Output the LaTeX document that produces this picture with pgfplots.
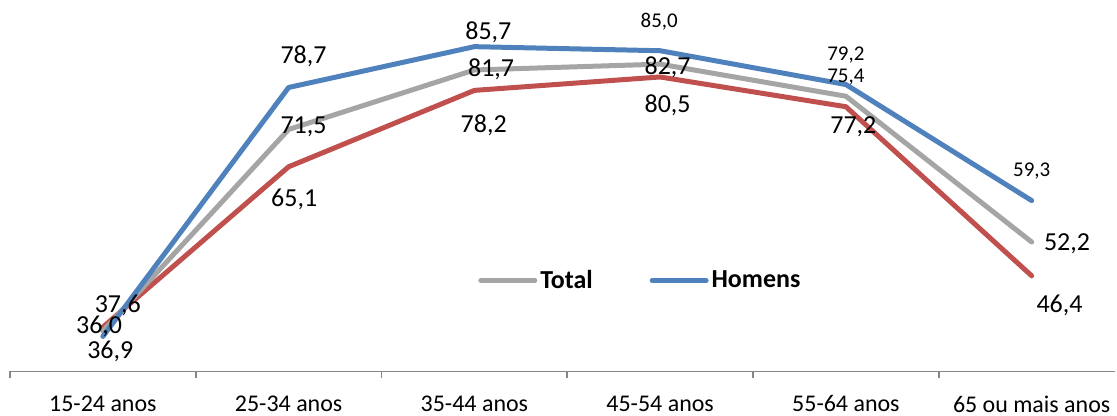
\documentclass[border=0pt]{standalone}
\usepackage{fontspec}
\setmainfont{Carlito}
\usepackage{pgfplots}
\pgfplotsset{compat=1.18}
\definecolor{cTot}{HTML}{A5A5A5}
\definecolor{cHom}{HTML}{4F81BD}
\definecolor{cMul}{HTML}{C0504D}
\definecolor{cAx}{HTML}{868686}
\newcommand{\lbig}{\fontsize{13}{15}\selectfont}
\newcommand{\lsml}{\fontsize{10.5}{12}\selectfont}
\begin{document}
\begin{tikzpicture}
\begin{axis}[
  scale only axis, width=553.5pt, height=186pt,
  xmin=-0.5, xmax=5.45, ymin=30, ymax=93.7,
  axis x line*=bottom, axis y line=none,
  xtick={0,1,2,3,4,5},
  xticklabels={15-24 anos,25-34 anos,35-44 anos,45-54 anos,55-64 anos,65 ou mais anos},
  major tick length=0pt,
  minor xtick={-0.5,0.5,1.5,2.5,3.5,4.5},
  minor tick length=3.5pt, tick align=outside,
  x axis line style={draw=cAx, line width=0.8pt},
  every minor tick/.style={draw=cAx, line width=0.8pt},
  xticklabel style={font=\fontsize{12}{14}\selectfont, inner ysep=1.5pt, yshift=-10.5pt},
  clip=false,
  legend columns=2,
  legend style={at={(0.418,0.245)}, anchor=west, draw=none, fill=none,
    font=\bfseries\fontsize{13}{15}\selectfont,
    nodes={inner xsep=1.5pt},
    /tikz/every even column/.append style={column sep=27pt}},
  legend image code/.code={\draw[#1,line cap=round] (0pt,0pt) -- (27pt,0pt);},
  every axis plot/.append style={line width=2.5pt, line join=round, line cap=round},
]
\addplot[cMul, forget plot] coordinates {(0,37.6) (1,65.1) (2,78.2) (3,80.5) (4,75.4) (5,46.4)};
\addplot[cTot] coordinates {(0,36.9) (1,71.5) (2,81.7) (3,82.7) (4,77.2) (5,52.2)};
\addlegendentry{Total}
\addplot[cHom] coordinates {(0,36.0) (1,78.7) (2,85.7) (3,85.0) (4,79.2) (5,59.3)};
\addlegendentry{Homens}
% data labels
\node[font=\lbig] at (axis cs:0.08,41.4) {37,6};
\node[font=\lbig] at (axis cs:-0.02,37.7) {36,0};
\node[font=\lbig] at (axis cs:0.04,33.4) {36,9};
\node[font=\lbig] at (axis cs:1.08,84.0) {78,7};
\node[font=\lbig] at (axis cs:1.08,72.0) {71,5};
\node[font=\lbig] at (axis cs:1.03,59.5) {65,1};
\node[font=\lbig] at (axis cs:2.075,88.1) {85,7};
\node[font=\lbig] at (axis cs:2.09,81.8) {81,7};
\node[font=\lbig] at (axis cs:2.05,72.2) {78,2};
\node[font=\lsml] at (axis cs:2.995,90.0) {85,0};
\node[font=\lbig] at (axis cs:3.04,82.1) {82,7};
\node[font=\lbig] at (axis cs:3.04,75.6) {80,5};
\node[font=\lsml] at (axis cs:4.0,84.2) {79,2};
\node[font=\lsml] at (axis cs:4.0,80.4) {75,4};
\node[font=\lbig] at (axis cs:4.04,71.9) {77,2};
\node[font=\lsml] at (axis cs:5.0,64.3) {59,3};
\node[font=\lbig] at (axis cs:5.19,51.9) {52,2};
\node[font=\lbig] at (axis cs:5.15,41.3) {46,4};
\end{axis}
\path ([xshift=-5pt]current axis.south west) (current axis.north east);
\end{tikzpicture}
\end{document}
